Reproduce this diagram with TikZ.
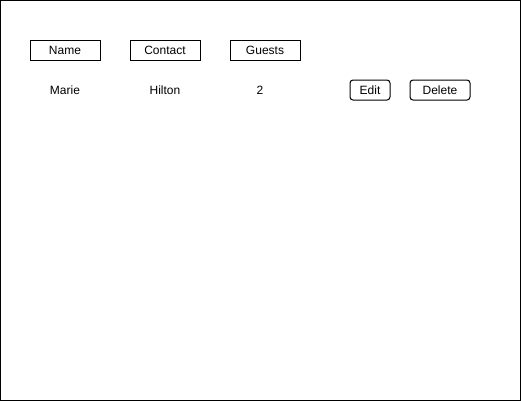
\documentclass[tikz,border=0pt]{standalone}
\usepackage{fontspec}
\setmainfont{Liberation Sans}
\usetikzlibrary{positioning}
\begin{document}
\begin{tikzpicture}[x=0.75pt, y=-0.75pt, node distance=75pt, line width=0.75pt, font=\fontsize{9pt}{11pt}\selectfont]
    \tikzstyle{header} = [rectangle, draw, minimum width=52.5pt, minimum height=15pt, inner sep=0pt]
    \tikzstyle{cell} = [inner sep=0pt]
    \tikzstyle{button} = [rectangle, draw, rounded corners=2.25pt, minimum height=15pt, inner sep=0pt]

    \useasboundingbox (0,0) rectangle (521,401);
    \draw (0.5,0.5) rectangle (520.5,400.5);

    \node [header] (name) at (65,50) {Name};
    \node [header, right of=name] (contact) {Contact};
    \node [header, right of=contact] (guests) {Guests};

    \node [cell] (marie) at (65,90) {Marie};
    \node [cell, right of=marie] (hilton) {Hilton};
    \node [cell] (count) at (260,90) {2};

    \node [button, minimum width=30pt] (edit) at (370,90) {Edit};
    \node [button, minimum width=45pt] (delete) at (440,90) {Delete};
\end{tikzpicture}
\end{document}
